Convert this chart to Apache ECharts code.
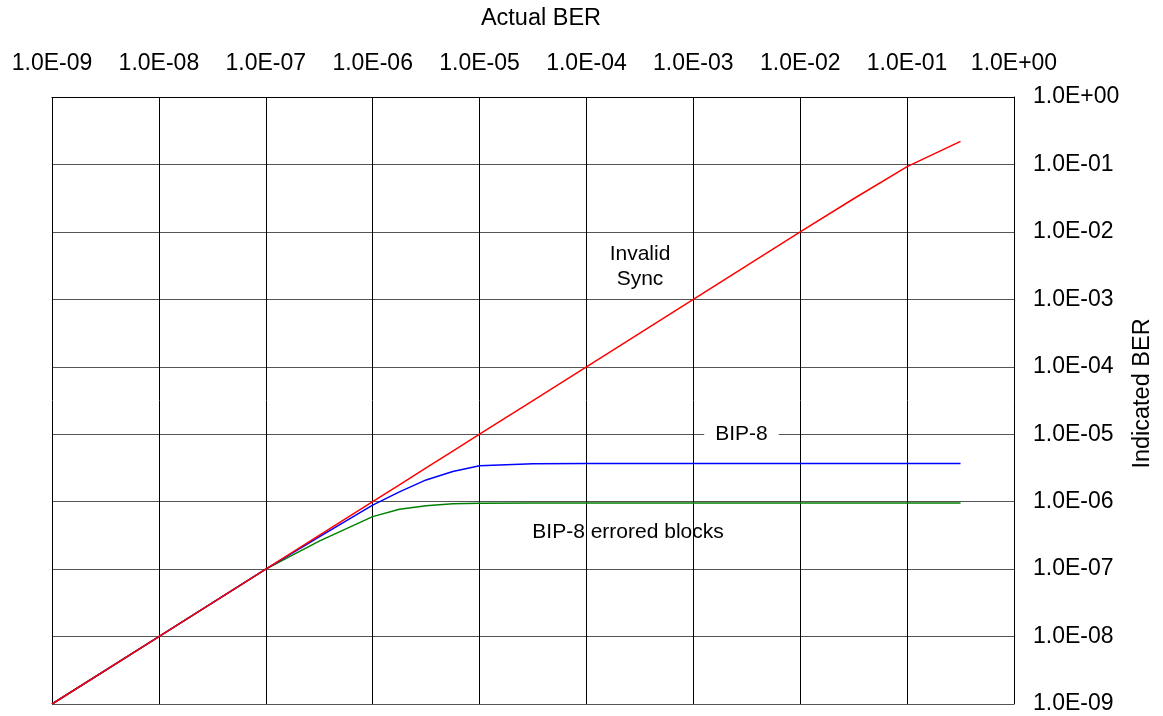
<!DOCTYPE html>
<html>
<head>
<meta charset="utf-8">
<script src="https://cdn.jsdelivr.net/npm/echarts@6/dist/echarts.min.js"></script>
<style>
html,body{margin:0;padding:0;background:#fff;}
#chart{width:1163px;height:716px;}
</style>
</head>
<body>
<div id="chart"></div>
<script>
// Actual BER (x) sample points
var actualBER = [1e-9, 1e-8, 1e-7, 3.16e-7, 1e-6, 1.78e-6, 3.16e-6, 5.62e-6, 1e-5, 3.16e-5, 1e-4, 1e-3, 1e-2, 3.16e-2, 1e-1, 3.16e-1];
// Indicated BER per method
var invalidSync = [1e-9, 1e-8, 1e-7, 3.16e-7, 1e-6, 1.78e-6, 3.16e-6, 5.62e-6, 1e-5, 3.16e-5, 1e-4, 1e-3, 1e-2, 3.1e-2, 9.3e-2, 2.2e-1];
var bip8 = [1e-9, 1e-8, 1e-7, 3.0e-7, 8.9e-7, 1.4e-6, 2.1e-6, 2.8e-6, 3.4e-6, 3.65e-6, 3.68e-6, 3.68e-6, 3.68e-6, 3.68e-6, 3.68e-6, 3.68e-6];
var bip8Blocks = [1e-9, 1e-8, 1e-7, 2.6e-7, 6.0e-7, 7.7e-7, 8.7e-7, 9.3e-7, 9.5e-7, 9.55e-7, 9.55e-7, 9.55e-7, 9.55e-7, 9.55e-7, 9.55e-7, 9.55e-7];
var seriesNames = ['Invalid Sync', 'BIP-8', 'BIP-8 errored blocks'];

function pair(xs, ys) { return xs.map(function (x, i) { return [x, ys[i]]; }); }
function fmtE(v) {
  var e = Math.round(Math.log(v) / Math.LN10);
  var a = Math.abs(e);
  return '1.0E' + (e < 0 ? '-' : '+') + (a < 10 ? '0' : '') + a;
}

var FONT = 'Liberation Sans, Arial, sans-serif';
var chart = echarts.init(document.getElementById('chart'));
chart.setOption({
  animation: false,
  backgroundColor: '#ffffff',
  grid: { left: 52, right: 144, top: 97, bottom: 12, containLabel: false },
  xAxis: {
    type: 'log', logBase: 10, position: 'top',
    min: 1e-9, max: 1, interval: 1,
    name: 'Actual BER', nameLocation: 'middle', nameGap: 66,
    nameTextStyle: { color: '#000', fontSize: 23.5, fontFamily: FONT, padding: [0, 0, 0, 16] },
    axisLine: { show: true, lineStyle: { color: '#000', width: 1 } },
    axisTick: { show: false },
    axisLabel: { color: '#000', fontSize: 23, fontFamily: FONT, margin: 22, formatter: fmtE },
    splitLine: { show: true, lineStyle: { color: '#000', width: 1 } },
    minorTick: { show: false }, minorSplitLine: { show: false }
  },
  yAxis: {
    type: 'log', logBase: 10, position: 'right',
    min: 1e-9, max: 1, interval: 1,
    name: 'Indicated BER', nameLocation: 'middle', nameGap: 117, nameRotate: 90,
    nameTextStyle: { color: '#000', fontSize: 23.5, fontFamily: FONT, padding: [0, 0, 0, 14] },
    axisLine: { show: true, lineStyle: { color: '#000', width: 1 } },
    axisTick: { show: false },
    axisLabel: { color: '#000', fontSize: 23, fontFamily: FONT, margin: 19, formatter: fmtE },
    splitLine: { show: true, lineStyle: { color: '#555', width: 1 } }
  },
  series: [
    {
      name: seriesNames[0], type: 'line', data: pair(actualBER, invalidSync),
      showSymbol: false, symbol: 'none',
      lineStyle: { color: '#ff0000', width: 1.5 }, z: 4,
      markPoint: {
        symbol: 'circle', symbolSize: 0, silent: true,
        label: { show: true, color: '#000', fontSize: 21, fontFamily: FONT, lineHeight: 25, align: 'center', verticalAlign: 'middle', formatter: 'Invalid\nSync' },
        data: [{ coord: [3.17e-4, 3.09e-3] }]
      }
    },
    {
      name: seriesNames[1], type: 'line', data: pair(actualBER, bip8),
      showSymbol: false, symbol: 'none',
      lineStyle: { color: '#0000ff', width: 1.5 }, z: 3,
      markPoint: {
        symbol: 'circle', symbolSize: 0, silent: true,
        label: { show: true, color: '#000', fontSize: 21, fontFamily: FONT, align: 'center', verticalAlign: 'middle', backgroundColor: '#fff', padding: [2, 11], formatter: 'BIP-8' },
        data: [{ coord: [2.82e-3, 1e-5] }]
      }
    },
    {
      name: seriesNames[2], type: 'line', data: pair(actualBER, bip8Blocks),
      showSymbol: false, symbol: 'none',
      lineStyle: { color: '#008000', width: 1.5 }, z: 2,
      markPoint: {
        symbol: 'circle', symbolSize: 0, silent: true,
        label: { show: true, color: '#000', fontSize: 21, fontFamily: FONT, align: 'center', verticalAlign: 'middle', formatter: 'BIP-8 errored blocks' },
        data: [{ coord: [2.45e-4, 3.55e-7] }]
      }
    }
  ]
});
</script>
</body>
</html>
